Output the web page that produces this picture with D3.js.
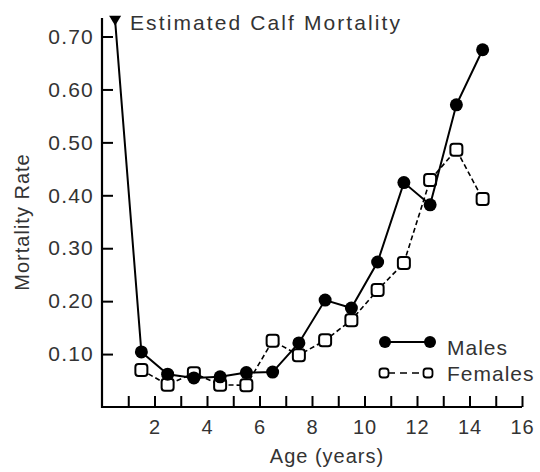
<!DOCTYPE html>
<html>
<head>
<meta charset="utf-8">
<script src="https://cdn.jsdelivr.net/npm/d3@7"></script>
<style>
  html, body { margin: 0; padding: 0; background: #fff; }
  svg { display: block; }
  text { font-family: "Liberation Sans", Arial, Helvetica, sans-serif; fill: #333; }
</style>
</head>
<body>
<svg id="chart" width="540" height="472"></svg>
<script>
// ---- data ----
const ages = [1.5, 2.5, 3.5, 4.5, 5.5, 6.5, 7.5, 8.5, 9.5, 10.5, 11.5, 12.5, 13.5, 14.5];
const males = [0.104, 0.062, 0.055, 0.057, 0.065, 0.066, 0.121, 0.202, 0.187, 0.274, 0.424, 0.382, 0.571, 0.675];
const females = [0.070, 0.042, 0.064, 0.042, 0.041, 0.125, 0.098, 0.126, 0.164, 0.221, 0.272, 0.429, 0.486, 0.393];
const calfAge = 0.5;
const calfMortality = 0.73;
const xTicks = [1, 2, 3, 4, 5, 6, 7, 8, 9, 10, 11, 12, 13, 14, 15, 16];
const yTicks = [0.1, 0.2, 0.3, 0.4, 0.5, 0.6, 0.7];
const labels = {
  title: "Estimated Calf Mortality",
  x: "Age (years)",
  y: "Mortality Rate",
  males: "Males",
  females: "Females"
};

// ---- layout ----
const svg = d3.select("#chart");
const x = d3.scaleLinear().domain([0, 16]).range([102, 522]);
const y = d3.scaleLinear().domain([0, 0.735]).range([407, 18]);

// axes
const xAxis = d3.axisBottom(x)
  .tickValues(xTicks)
  .tickSize(-11)
  .tickSizeOuter(0)
  .tickPadding(13)
  .tickFormat(d => d % 2 === 0 ? d : "");
const gx = svg.append("g").attr("transform", `translate(0,${y(0)})`).call(xAxis);
gx.select(".domain").attr("stroke", "#000").attr("stroke-width", 2.2)
  .attr("d", `M${x(0)-1},0H${x(16)}`);
gx.selectAll(".tick line").attr("stroke", "#000").attr("stroke-width", 2);
gx.selectAll(".tick text").style("font-size", "20px").style("letter-spacing", "1px")
  .attr("fill", "#333").attr("dy", "0.71em");

const yAxis = d3.axisLeft(y)
  .tickValues(yTicks)
  .tickSize(-11)
  .tickSizeOuter(0)
  .tickPadding(8)
  .tickFormat(d3.format(".2f"));
const gy = svg.append("g").attr("transform", `translate(${x(0)},0)`).call(yAxis);
gy.select(".domain").attr("stroke", "#000").attr("stroke-width", 2.2)
  .attr("d", `M0,${y(0)+1}V${y(0.735)}`);
gy.selectAll(".tick line").attr("stroke", "#000").attr("stroke-width", 2);
gy.selectAll(".tick text").style("font-size", "21px").style("letter-spacing", "1.2px")
  .attr("fill", "#333");

// axis titles
svg.append("text")
  .attr("x", 327).attr("y", 463)
  .attr("text-anchor", "middle")
  .style("font-size", "20px").style("letter-spacing", "1px")
  .text(labels.x);
svg.append("text")
  .attr("transform", `translate(29,222) rotate(-90)`)
  .attr("text-anchor", "middle")
  .style("font-size", "20px").style("letter-spacing", "1px")
  .text(labels.y);

// calf marker label
svg.append("text")
  .attr("x", 130).attr("y", 30)
  .style("font-size", "21px").style("letter-spacing", "2.1px")
  .text(labels.title);

// ---- series ----
const line = d3.line().x(d => x(d[0])).y(d => y(d[1]));
const femData = ages.map((a, i) => [a, females[i]]);
const maleData = ages.map((a, i) => [a, males[i]]);

// females
svg.append("path").datum(femData)
  .attr("d", line).attr("fill", "none").attr("stroke", "#000")
  .attr("stroke-width", 1.6).attr("stroke-dasharray", "5,3");
svg.selectAll(".fem").data(femData).enter().append("rect")
  .attr("class", "fem")
  .attr("x", d => x(d[0]) - 6).attr("y", d => y(d[1]) - 6)
  .attr("width", 12).attr("height", 12).attr("rx", 3)
  .attr("fill", "#fff").attr("stroke", "#000").attr("stroke-width", 2);

// males (with calf link)
svg.append("path").datum([[calfAge, calfMortality]].concat(maleData))
  .attr("d", line).attr("fill", "none").attr("stroke", "#000")
  .attr("stroke-width", 2);
svg.selectAll(".male").data(maleData).enter().append("circle")
  .attr("class", "male")
  .attr("cx", d => x(d[0])).attr("cy", d => y(d[1])).attr("r", 6.5)
  .attr("fill", "#000");

// calf triangle
const cx = x(calfAge), cy = y(calfMortality);
svg.append("path")
  .attr("d", `M${cx-6},${cy-5}L${cx+6},${cy-5}L${cx},${cy+5}Z`)
  .attr("fill", "#000");

// ---- legend ----
const lg = svg.append("g");
lg.append("line").attr("x1", 385).attr("x2", 430).attr("y1", 342).attr("y2", 342)
  .attr("stroke", "#000").attr("stroke-width", 2);
[385, 430].forEach(px => lg.append("circle").attr("cx", px).attr("cy", 342).attr("r", 6).attr("fill", "#000"));
lg.append("text").attr("x", 447).attr("y", 355)
  .style("font-size", "21px").style("letter-spacing", "1px").text(labels.males);

lg.append("line").attr("x1", 385).attr("x2", 428).attr("y1", 373).attr("y2", 373)
  .attr("stroke", "#000").attr("stroke-width", 1.6).attr("stroke-dasharray", "7,5")
  .attr("stroke-dashoffset", -3);
[384, 428].forEach(px => lg.append("rect").attr("x", px - 4.5).attr("y", 373 - 4.5)
  .attr("width", 9).attr("height", 9).attr("rx", 3)
  .attr("fill", "#fff").attr("stroke", "#000").attr("stroke-width", 1.8));
lg.append("text").attr("x", 447).attr("y", 381)
  .style("font-size", "21px").style("letter-spacing", "1px").text(labels.females);
</script>
</body>
</html>
